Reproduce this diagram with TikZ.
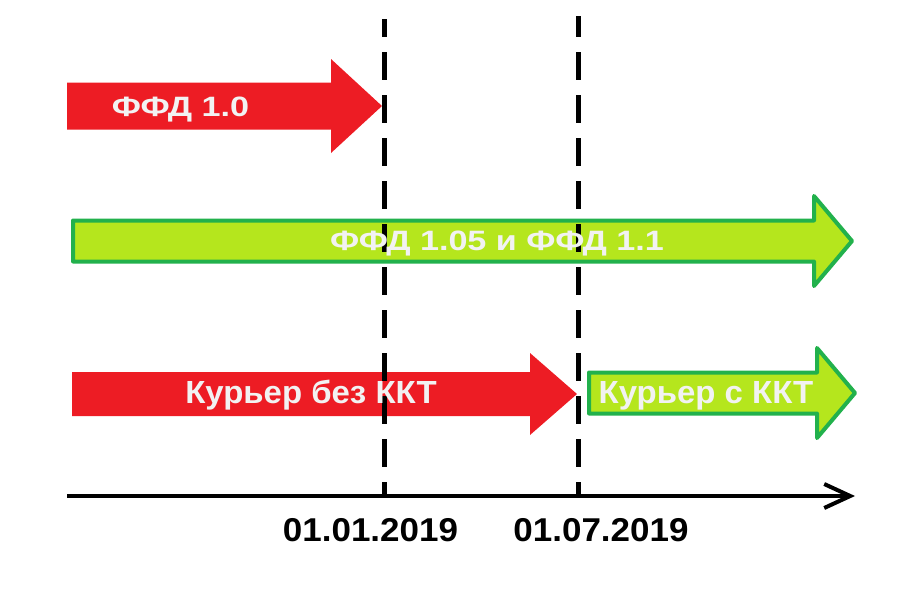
\documentclass[tikz,border=0pt]{standalone}
\usepackage{fontspec}
\setmainfont{Liberation Sans}
\newfontfamily\ffdfont[FakeStretch=1.22]{Liberation Sans}
\newfontfamily\courfont[FakeStretch=1.03]{Liberation Sans}
\newfontfamily\datefont[FakeStretch=1.06]{Liberation Sans}
\usetikzlibrary{arrows.meta}

\definecolor{ffdred}{RGB}{237,28,36}
\definecolor{ffdlime}{RGB}{181,230,29}
\definecolor{ffdgreen}{RGB}{34,177,76}
\definecolor{ffdtext}{RGB}{242,242,242}

\begin{document}
\begin{tikzpicture}[
    x=1pt, y=-1pt,
    redarrow/.style={fill=ffdred},
    greenarrow/.style={fill=ffdlime, draw=ffdgreen, line width=4pt, line join=round},
    arrowtext/.style={text=ffdtext, inner sep=0pt, anchor=base},
    ffdtext/.style={arrowtext, font=\ffdfont\bfseries\fontsize{28}{30}\selectfont},
    courtext/.style={arrowtext, font=\courfont\bfseries\fontsize{32}{34}\selectfont},
    datetext/.style={font=\datefont\bfseries\fontsize{33}{36}\selectfont, inner sep=0pt, anchor=base},
    deadline/.style={line width=5pt, dash pattern=on 28pt off 15pt},
    timeline/.style={line width=4pt, -{Straight Barb[length=26pt, width=24pt]}}
]
\useasboundingbox (0,0) rectangle (900,600);

% Arrows
\fill[redarrow] (67,82.5) -- (331,82.5) -- (331,59) -- (382,106) -- (331,153) -- (331,129.5) -- (67,129.5) -- cycle;
\filldraw[greenarrow] (73,220.5) -- (814,220.5) -- (814,196) -- (852,241) -- (814,286) -- (814,261.5) -- (73,261.5) -- cycle;
\fill[redarrow] (72,372) -- (530,372) -- (530,353) -- (577,394) -- (530,435) -- (530,416) -- (72,416) -- cycle;
\filldraw[greenarrow] (589,372.5) -- (817,372.5) -- (817,348) -- (855,393) -- (817,438) -- (817,413.5) -- (589,413.5) -- cycle;

% Dates
\draw[deadline, dash phase=10pt] (384,19) coordinate (t1) -- (384,497) coordinate (b1);
\draw[deadline, dash phase=7pt] (578,16) coordinate (t2) -- (578,497) coordinate (b2);

% Axis
\coordinate (axisL) at (67,496);
\coordinate (axisR) at (855,496);
\draw[timeline] (axisL) -- (axisR);

% Labels
\node[ffdtext] (ffd10) at (180.5,116) {ФФД 1.0};
\node[ffdtext] (ffd11) at (497,250) {ФФД 1.05 и ФФД 1.1};
\node[courtext] (nokkt) at (311,403) {Курьер без ККТ};
\node[courtext] (kkt) at (706,403) {Курьер с ККТ};
\node[datetext] (jan) at (370.5,541) {01.01.2019};
\node[datetext] (jul) at (601,541) {01.07.2019};

\end{tikzpicture}
\end{document}
